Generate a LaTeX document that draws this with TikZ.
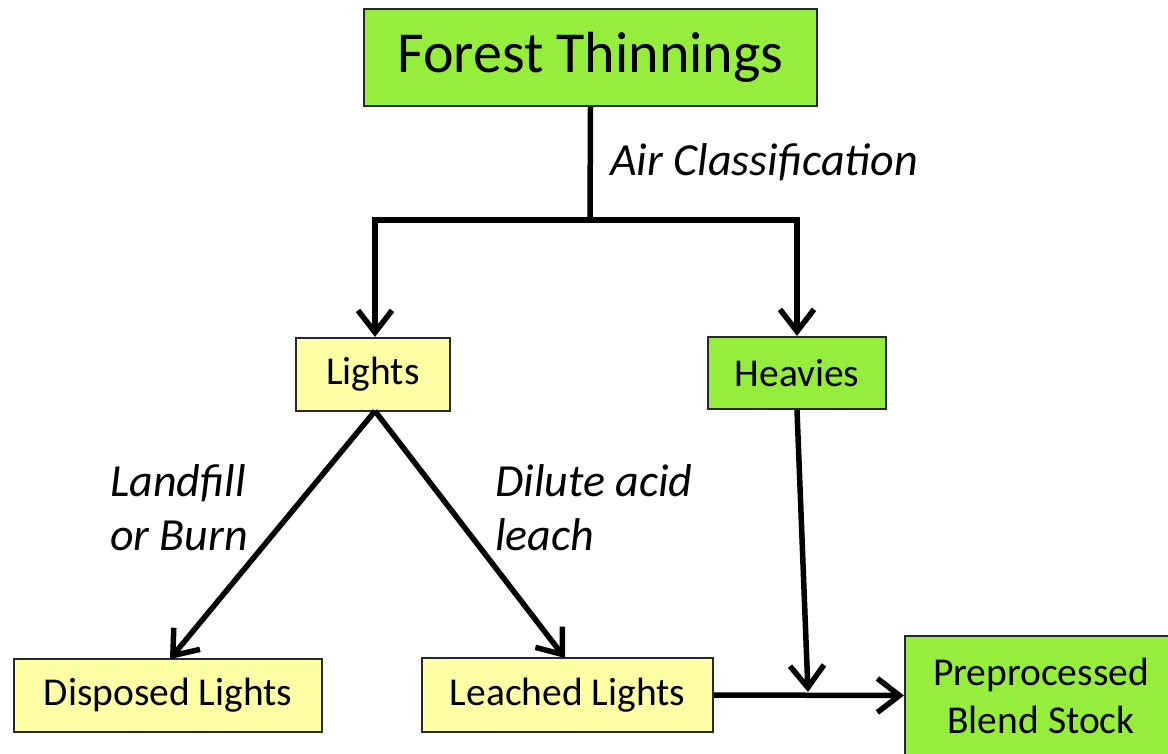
\documentclass[tikz,border=0pt]{standalone}
\usepackage{fontspec}
\setmainfont{Carlito}
\usetikzlibrary{arrows.meta}
\definecolor{boxgreen}{RGB}{150,238,60}
\definecolor{boxyellow}{RGB}{255,255,165}
\definecolor{edgegray}{RGB}{40,40,40}
\tikzset{
  greenbox/.style={draw=edgegray, line width=2.2pt, fill=boxgreen, inner sep=0pt, align=center},
  yellowbox/.style={draw=edgegray, line width=2.2pt, fill=boxyellow, inner sep=0pt, align=center},
  boxtext/.style={font=\fontsize{39.5}{48}\selectfont},
  lbl/.style={font=\fontsize{46}{54}\selectfont\itshape, inner sep=0pt, align=left},
  conn/.style={line width=5.5pt, line cap=butt},
  arr/.style={conn, -{Straight Barb[length=22pt,width=34pt,line width=5.5pt]}}
}
\begin{document}
\begin{tikzpicture}[x=1pt,y=-1pt]
\useasboundingbox (0,0) rectangle (1168,753);
\fill[white] (0,0) rectangle (1168,753);
% boxes
\node[greenbox, minimum width=453pt, minimum height=97pt, font=\fontsize{58}{68}\selectfont] (forest) at (590.5,57.5) {Forest Thinnings};
\node[yellowbox, boxtext, minimum width=154pt, minimum height=73pt] (lights) at (373,374.5) {Lights};
\node[greenbox, boxtext, minimum width=178pt, minimum height=72pt] (heavies) at (797,373) {Heavies};
\node[yellowbox, boxtext, minimum width=308pt, minimum height=73pt] (disposed) at (168,695.5) {Disposed Lights};
\node[yellowbox, boxtext, minimum width=291pt, minimum height=74pt] (leached) at (567.5,695) {Leached Lights};
\node[greenbox, boxtext, minimum width=272pt, minimum height=119pt] (pre) at (1041,695.5) {Preprocessed\\Blend Stock};
% labels
\node[lbl, anchor=base west] (aircl) at (610,175) {Air Classification};
\node[lbl, anchor=north west] (landfill) at (110,464) {Landfill\\or Burn};
\node[lbl, anchor=north west] (dilute) at (495,464) {Dilute acid\\leach};
% junction coordinates
\coordinate (j) at (590,220);
\coordinate (jl) at (375,220);
\coordinate (jr) at (797,220);
\coordinate (ls) at (375,411);
\coordinate (dt) at (170,659);
\coordinate (lt) at (565,658);
\coordinate (hm) at (808,692);
% connectors
\draw[conn] (forest.south) -- (j);
\draw[conn, line cap=rect] (jl) -- (jr);
\draw[arr] (jl) -- (lights.north -| jl);
\draw[arr] (jr) -- (heavies.north);
\draw[arr] (ls) -- (dt);
\draw[arr] (ls) -- (lt);
\draw[arr] (heavies.south) -- (hm);
\draw[arr] (leached.east) -- (pre.west);
\end{tikzpicture}
\end{document}
